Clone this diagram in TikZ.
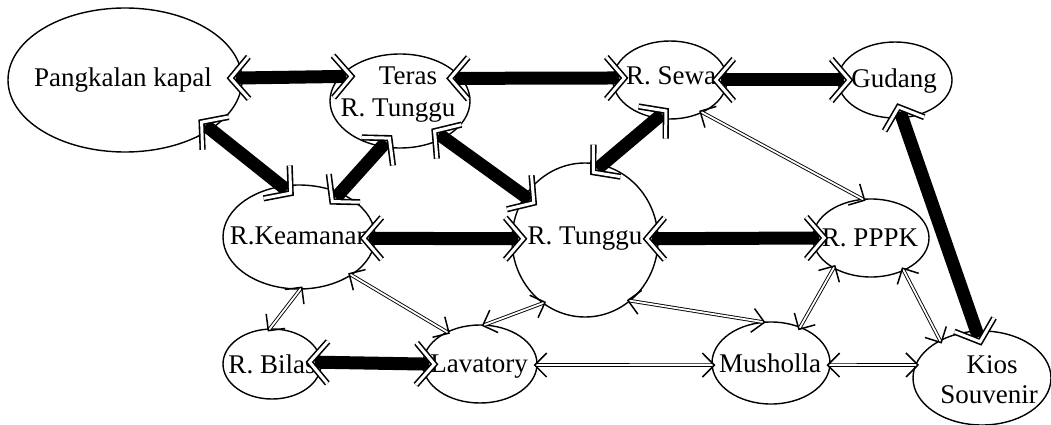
\documentclass[tikz,border=0pt]{standalone}
\usepackage{fontspec}
\setmainfont{Liberation Serif}
\usetikzlibrary{shapes.geometric,decorations.markings}
\tikzset{
  place/.style={draw, ellipse, line width=1.4pt, inner sep=0pt},
  lbl/.style={font=\fontsize{27}{30}\selectfont, inner sep=0pt, anchor=base},
  bar/.style={line width=13pt, shorten <=-7pt, shorten >=-7pt},
  bigchev/.style={draw, double=white, double distance=3pt, line width=1.6pt, miter limit=20, shorten <=0pt, shorten >=0pt},
  bigtips/.style={postaction={decorate, decoration={markings,
     mark=at position 0 with {\draw[bigchev] (6pt,21pt) -- (-12pt,0pt) -- (6pt,-21pt);},
     mark=at position 1 with {\draw[bigchev] (-6pt,21pt) -- (12pt,0pt) -- (-6pt,-21pt);}}}},
  thinlink/.style={double=white, double distance=1.8pt, line width=0.9pt, shorten <=-2pt, shorten >=-2pt},
  smallchev/.style={draw, line width=1.5pt, shorten <=0pt, shorten >=0pt},
  smalltips/.style={postaction={decorate, decoration={markings,
     mark=at position 0 with {\draw[smallchev] (9pt,12pt) -- (-3pt,0pt) -- (9pt,-12pt);},
     mark=at position 1 with {\draw[smallchev] (-9pt,12pt) -- (3pt,0pt) -- (-9pt,-12pt);}}}},
}
\begin{document}
\begin{tikzpicture}[x=1pt,y=-1pt]
\useasboundingbox (0,0) rectangle (1051,425);
% places
\node[place, minimum width=234pt, minimum height=144pt] (pk) at (125,80) {};
\node[place, minimum width=140pt, minimum height=94pt] (teras) at (400,101) {};
\node[place, minimum width=114pt, minimum height=78pt] (sewa) at (670,80) {};
\node[place, minimum width=114pt, minimum height=76pt] (gud) at (895,80) {};
\node[place, minimum width=152pt, minimum height=104pt] (kea) at (299,237) {};
\node[place, minimum width=146pt, minimum height=154pt] (tun) at (585,240) {};
\node[place, minimum width=116pt, minimum height=78pt] (ppk) at (871,238) {};
\node[place, minimum width=98pt, minimum height=70pt] (bil) at (272,364) {};
\node[place, minimum width=114pt, minimum height=78pt] (lav) at (480,364) {};
\node[place, minimum width=118pt, minimum height=82pt] (mus) at (771,363) {};
\node[place, minimum width=138pt, minimum height=94pt] (kios) at (982,378) {};
% labels
\node[lbl] (tpk) at (123,87) {Pangkalan kapal};
\node[lbl] (tteras) at (408,85) {Teras};
\node[lbl] (tteras2) at (398,117) {R. Tunggu};
\node[lbl] (tsewa) at (671,85) {R. Sewa};
\node[lbl] (tgud) at (894,88) {Gudang};
\node[lbl] (tkea) at (300,244) {R.Keamanan};
\node[lbl] (ttun) at (585,244) {R. Tunggu};
\node[lbl] (tppk) at (870,246) {R. PPPK};
\node[lbl] (tbil) at (272,373) {R. Bilas};
\node[lbl] (tlav) at (479,372) {Lavatory};
\node[lbl] (tmus) at (770,372) {Musholla};
\node[lbl] (tkios) at (992,373) {Kios};
\node[lbl] (tkios2) at (989,403) {Souvenir};
% thick links
\draw[bar, bigtips] (pk.1.5) -- (teras.158.3);
\draw[bar, bigtips] (teras.20.7) -- (sewa.178);
\draw[bar, bigtips] (sewa.0) -- (gud.180);
\draw[bar, bigtips] (pk.-30.2) -- (kea.109.8);
\draw[bar, bigtips] (kea.47.8) -- (teras.248.7);
\draw[bar, bigtips] (teras.-40) -- (tun.144.6);
\draw[bar, bigtips] (tun.77) -- (sewa.251);
\draw[bar, bigtips] (kea.-1.5) -- (tun.179);
\draw[bar, bigtips] (tun.1.5) -- (ppk.180);
\draw[bar, bigtips] (gud.-79.7) -- (kios.97.8);
\draw[bar, bigtips] (bil.2) -- (lav.180);
% thin links
\draw[thinlink, smalltips] (sewa.-45) -- (ppk.103.6);
\draw[thinlink, smalltips] (kea.-89) -- (bil.93.6);
\draw[thinlink, smalltips] (kea.-36.9) -- (lav.136);
\draw[thinlink, smalltips] (lav.82) -- (tun.236.6);
\draw[thinlink, smalltips] (tun.-53) -- (mus.103.6);
\draw[thinlink, smalltips] (lav.-1.5) -- (mus.182);
\draw[thinlink, smalltips] (mus.51.8) -- (ppk.219);
\draw[thinlink, smalltips] (ppk.-45) -- (kios.138.6);
\draw[thinlink, smalltips] (mus.-2.9) -- (kios.169.8);
\end{tikzpicture}
\end{document}
